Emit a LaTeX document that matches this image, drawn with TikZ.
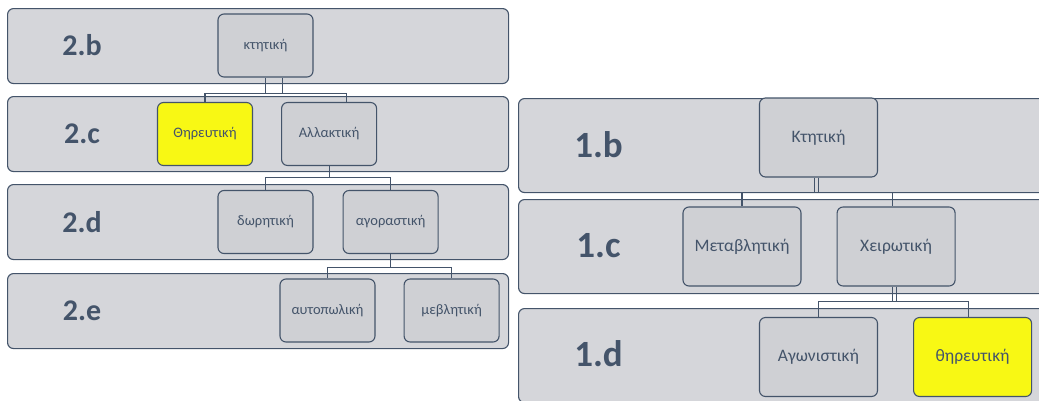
\documentclass[tikz,border=0pt]{standalone}
\usepackage{fontspec}
\setmainfont{Carlito}
\usetikzlibrary{positioning}
\definecolor{ardoise}{HTML}{44546A}
\definecolor{fondgris}{HTML}{D5D6DA}
\definecolor{boitegris}{HTML}{CFD0D4}
\definecolor{jaune}{HTML}{F8F814}
\begin{document}
\begin{tikzpicture}[x=1pt,y=-1pt,line width=1.1pt,
    bande/.style={draw=ardoise,fill=fondgris,rounded corners=6pt,anchor=north west,minimum height=75pt,inner sep=0pt},
    grandebande/.style={bande,minimum height=94pt},
    niveau/.style={text=ardoise,font=\fontsize{30}{36}\selectfont\bfseries},
    grandniveau/.style={text=ardoise,font=\fontsize{37}{44}\selectfont\bfseries},
    boite/.style={draw=ardoise,fill=boitegris,rounded corners=6pt,text=ardoise,minimum width=95pt,minimum height=63pt,inner sep=0pt,font=\fontsize{14.5}{17}\selectfont},
    grandeboite/.style={boite,minimum width=118pt,minimum height=79pt,font=\fontsize{17.5}{21}\selectfont},
    choisie/.style={fill=jaune},
    lien/.style={draw=ardoise}]
    \useasboundingbox (0,0) rectangle (1039,400);
    % bandes de gauche
    \node[bande,minimum width=501pt] (b2b) at (7,8) {};
    \node[bande,minimum width=501pt] (b2c) at (7,96) {};
    \node[bande,minimum width=501pt] (b2d) at (7,184) {};
    \node[bande,minimum width=501pt] (b2e) at (7,273) {};
    \node[niveau] at (82,45.5) {2.b};
    \node[niveau] at (82,134) {2.c};
    \node[niveau] at (82,222) {2.d};
    \node[niveau] at (82,310.5) {2.e};
    % bandes de droite
    \node[grandebande,minimum width=540pt] (b1b) at (518,98) {};
    \node[grandebande,minimum width=540pt] (b1c) at (518,199) {};
    \node[grandebande,minimum width=540pt] (b1d) at (518,308) {};
    \node[grandniveau] at (598.5,145) {1.b};
    \node[grandniveau] at (598.5,246) {1.c};
    \node[grandniveau] at (598.5,354) {1.d};
    % arbre de gauche
    \node[boite] (kt) at (265.5,45.5) {κτητική};
    \node[boite,choisie] (ther) at (205,134) {Θηρευτική};
    \node[boite,right=28pt of ther] (all) {Αλλακτική};
    \node[boite] (dor) at (265.5,222) {δωρητική};
    \node[boite,right=29pt of dor] (agor) {αγοραστική};
    \node[boite] (auto) at (327.5,310.5) {αυτοπωλική};
    \node[boite,right=28pt of auto] (meb) {μεβλητική};
    \draw[lien] ([xshift=17]kt.south) -- ++(0,16) -| (ther.north);
    \draw[lien] (kt.south) -- ++(0,16) -| ([xshift=17]all.north);
    \draw[lien] (all.south) -- ++(0,11) -| (dor.north);
    \draw[lien] (all.south) -- ++(0,11) -| (agor.north);
    \draw[lien] (agor.south) -- ++(0,13) -| (auto.north);
    \draw[lien] (agor.south) -- ++(0,13) -| (meb.north);
    % arbre de droite
    \node[grandeboite] (Kt) at (818.5,137.5) {Κτητική};
    \node[grandeboite] (Meta) at (742,246.5) {Μεταβλητική};
    \node[grandeboite,right=35pt of Meta] (Xeir) {Χειρωτική};
    \node[grandeboite] (Agon) at (818.5,357) {Αγωνιστική};
    \node[grandeboite,choisie,right=35pt of Agon] (Ther) {θηρευτική};
    \draw[lien] (Kt.south) -- ++(0,14.5) -| (Meta.north);
    \draw[lien] ([xshift=-4]Kt.south) -- ++(0,14.5) -| ([xshift=-4]Xeir.north);
    \draw[lien] (Xeir.south) -- ++(0,15) -| (Agon.north);
    \draw[lien] ([xshift=-4]Xeir.south) -- ++(0,15) -| ([xshift=-4]Ther.north);
\end{tikzpicture}
\end{document}
